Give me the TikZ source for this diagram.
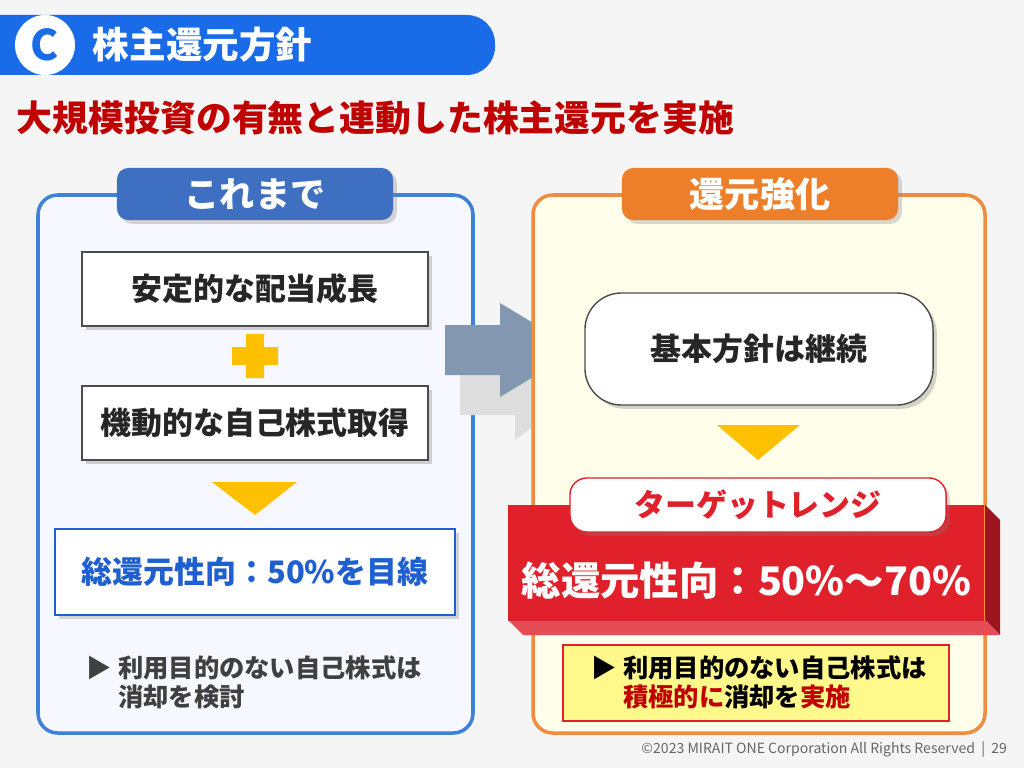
\documentclass[tikz,border=0pt]{standalone}
\usepackage{fontspec}
\setmainfont{Noto Sans CJK JP}
\usetikzlibrary{positioning,shadows}
\definecolor{banblue}{HTML}{1A6BE8}
\definecolor{tabblue}{HTML}{3F6FC0}
\definecolor{panblue}{HTML}{3D82D8}
\definecolor{tabor}{HTML}{EE7F2A}
\definecolor{titred}{HTML}{C00000}
\definecolor{boxred}{HTML}{E0202A}
\definecolor{triy}{HTML}{FFC000}
\definecolor{txtblue}{HTML}{1F5FD0}
\definecolor{arrgray}{HTML}{8497B0}
\tikzset{
  px/.style={x=0.025cm,y=-0.025cm},
  whitebox/.style={draw=black!70,fill=white,line width=1pt,drop shadow={opacity=0.35},font=\bfseries\fontsize{22}{24}\selectfont,text=black!85},
  tabbox/.style={rounded corners=8pt,text=white,font=\bfseries\fontsize{25}{28}\selectfont,drop shadow={opacity=0.3}},
  note/.style={anchor=west,font=\bfseries\fontsize{18}{20}\selectfont,text=black!75}
}
\begin{document}
\begin{tikzpicture}[px]
\useasboundingbox (0,0) rectangle (1024,768);
\fill[black!4] (0,0) rectangle (1024,768);
% banner
\fill[banblue,rounded corners=20pt] (-30,15) rectangle (495,75);
\node[circle,fill=white,minimum size=1.5cm,text=banblue,font=\bfseries\fontsize{30}{30}\selectfont] (cc) at (45,45) {C};
\node[anchor=west,text=white,font=\bfseries\fontsize{26}{28}\selectfont] (ban) at (88,45) {株主還元方針};
\node[anchor=west,text=titred,font=\bfseries\fontsize{25.5}{28}\selectfont] (tit) at (12,118) {大規模投資の有無と連動した株主還元を実施};
% left panel
\draw[panblue,line width=2.5pt,fill=blue!3,rounded corners=14pt] (38,195) rectangle (473,733);
\node[tabbox,fill=tabblue,minimum width=6.9cm,minimum height=1.3cm] (tl) at (255,194) {これまで};
\node[whitebox,minimum width=8.65cm,minimum height=1.85cm] (b1) at (255,289) {安定的な配当成長};
\fill[triy] (246,334) rectangle (264,378) (232,347) rectangle (278,365);
\node[whitebox,minimum width=8.65cm,minimum height=1.85cm] (b2) at (255,423) {機動的な自己株式取得};
\fill[triy] (212,482) -- (297,482) -- (255,515) -- cycle;
\node[draw=txtblue,line width=1.5pt,fill=white,drop shadow={opacity=0.3},minimum width=10cm,minimum height=2.15cm,text=txtblue,font=\bfseries\fontsize{22}{24}\selectfont] (b3) at (255,572) {総還元性向：50\%を目線};
\node[note] (n1) at (82,668) {▶ 利用目的のない自己株式は};
\node[note] (n2) at (82,697) {\phantom{▶ }消却を検討};
% arrow
\fill[black!13] (460,345) -- (515,345) -- (515,320) -- (590,385) -- (515,440) -- (515,415) -- (460,415) -- cycle;
\fill[arrgray] (445,325) -- (500,325) -- (500,303) -- (578,350) -- (500,397) -- (500,375) -- (445,375) -- cycle;
% right panel
\draw[tabor!90,line width=2.5pt,fill=orange!12!yellow!8,rounded corners=14pt] (533,195) rectangle (985,733);
\node[tabbox,fill=tabor,minimum width=6.9cm,minimum height=1.3cm] (tr) at (760,194) {還元強化};
\node[whitebox,rounded corners=26pt,minimum width=8.7cm,minimum height=2.8cm] (p1) at (759,349) {基本方針は継続};
\fill[triy] (717,425) -- (800,425) -- (758,460) -- cycle;
\fill[boxred!70!black] (985,505) -- (1000,520) -- (1000,635) -- (985,620) -- cycle;
\fill[boxred!80!white] (508,620) -- (985,620) -- (1000,635) -- (523,635) -- cycle;
\node[fill=boxred,minimum width=11.9cm,minimum height=2.9cm,anchor=north west,text=white,font=\bfseries\fontsize{28}{30}\selectfont,text depth=0pt,inner sep=0pt] (rb) at (508,505) {\raisebox{-0.75cm}{総還元性向：50\%～70\%}};
\node[draw=boxred,fill=white,line width=1pt,rounded corners=12pt,minimum width=9.4cm,minimum height=1.35cm,text=boxred,font=\bfseries\fontsize{22}{24}\selectfont,drop shadow={opacity=0.3}] (tg) at (758,505) {ターゲットレンジ};
\node[draw=boxred,line width=1.2pt,fill=yellow!45,minimum width=9.65cm,minimum height=1.9cm] (yb) at (756,683) {};
\node[note,text=black] (n3) at (587,668) {▶ 利用目的のない自己株式は};
\node[note,text=black] (n4) at (587,697) {\phantom{▶ }\textcolor{titred}{積極的に}消却を\textcolor{titred}{実施}};
\node[anchor=east,text=black!60,font=\fontsize{10}{12}\selectfont] (ft) at (1012,750) {©2023 MIRAIT ONE Corporation All Rights Reserved ~\textbar~ 29};
\end{tikzpicture}
\end{document}
